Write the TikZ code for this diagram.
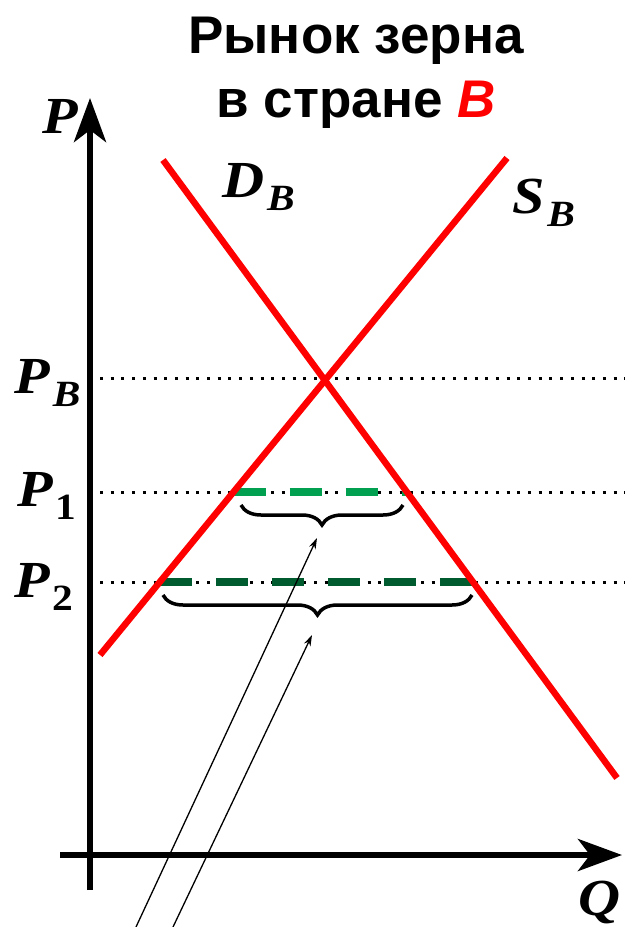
\documentclass[tikz,border=0pt]{standalone}
\usepackage{fontspec}
\setmainfont{Liberation Serif}
\newfontfamily\titlefont{Liberation Sans}
\newfontfamily\lblfont[FakeStretch=1.12]{Liberation Serif}
\usepackage{xcolor}
\usetikzlibrary{arrows.meta,positioning,decorations.pathreplacing,calc}
\definecolor{curvered}{RGB}{255,0,0}
\definecolor{lightgreen}{RGB}{0,160,80}
\definecolor{darkgreen}{RGB}{0,92,46}
\newcommand{\mlabel}[2]{\textbf{\textit{#1}}\kern3pt\raisebox{-13pt}{\fontsize{37}{37}\selectfont\bfseries #2}}

\begin{document}
\begin{tikzpicture}[
    x=1pt, y=-1pt,
    every node/.style={inner sep=0pt, outer sep=0pt},
    title/.style={anchor=base, font=\titlefont\bfseries\fontsize{53}{53}\selectfont},
    lbl/.style={anchor=base west, font=\lblfont\fontsize{52}{52}\selectfont},
    axis/.style={line width=6pt, -{Stealth[length=44pt, width=32pt, inset=12pt]}},
    curve/.style={line width=6.5pt, draw=curvered},
    guide/.style={line width=3pt, dash pattern=on 3pt off 7.7pt},
    gapone/.style={line width=8pt, draw=lightgreen, dash pattern=on 32pt off 24pt},
    gaptwo/.style={line width=8pt, draw=darkgreen, dash pattern=on 32pt off 24pt},
    gapbrace/.style={line width=3.5pt, decorate, decoration={brace, amplitude=20pt, mirror}},
    pointer/.style={line width=1.3pt, -{Stealth[length=11pt, width=7pt]}}
]
\useasboundingbox (0,0) rectangle (625,927);

% Title
\node[title] (title1) at (356,53) {Рынок зерна};
\node[title] (title2) at (356,117) {в стране \textcolor{curvered}{\textit{B}}};

% Axes
\coordinate (origin_v) at (90,890);
\coordinate (top_v) at (90,98);
\coordinate (origin_h) at (60,855);
\coordinate (end_h) at (622,855);
\draw[axis] (origin_v) -- (top_v);
\draw[axis] (origin_h) -- (end_h);
\node[lbl] (p_axis) at (42,133) {\textbf{\textit{P}}};
\node[lbl] (q_axis) at (578,915) {\textbf{\textit{Q}}};

% Price levels
\coordinate (gb_l) at (100,378);
\coordinate (gb_r) at (625,378);
\coordinate (g1_l) at (100,492);
\coordinate (g1_r) at (625,492);
\coordinate (g2_l) at (100,582);
\coordinate (g2_r) at (625,582);
\draw[guide] (gb_l) -- (gb_r);
\draw[guide] (g1_l) -- (g1_r);
\draw[guide] (g2_l) -- (g2_r);
\node[lbl] (p_b) at (14,393) {\mlabel{P}{\textit{B}}};
\node[lbl] (p_1) at (17,506) {\mlabel{P}{1}};
\node[lbl] (p_2) at (14,597) {\mlabel{P}{2}};

% Demand and supply
\coordinate (d_top) at (163,160);
\coordinate (d_bot) at (617,778);
\coordinate (s_bot) at (100,655);
\coordinate (s_top) at (507,158);
\coordinate (s1) at (intersection of s_bot--s_top and g1_l--g1_r);
\coordinate (d1) at (intersection of d_top--d_bot and g1_l--g1_r);
\coordinate (s2) at (intersection of s_bot--s_top and g2_l--g2_r);
\coordinate (d2) at (intersection of d_top--d_bot and g2_l--g2_r);
\draw[gapone] (s1) -- (d1);
\draw[gaptwo] (s2) -- (d2);
\draw[curve] (d_top) -- (d_bot);
\draw[curve] (s_bot) -- (s_top);
\node[lbl] (d_lbl) at (222,197) {\mlabel{D}{\textit{B}}};
\node[lbl] (s_lbl) at (512,213) {\mlabel{S}{\textit{B}}};

% Shortages
\coordinate (br1_l) at (241,505);
\coordinate (br1_r) at (403,505);
\coordinate (br2_l) at (163,595);
\coordinate (br2_r) at (472,595);
\draw[gapbrace] (br1_l) -- (br1_r);
\draw[gapbrace] (br2_l) -- (br2_r);
\coordinate (tip1) at (317,538);
\coordinate (tip2) at (312,635);
\coordinate (src1) at (136,927);
\coordinate (src2) at (173,927);
\draw[pointer] (src1) -- (tip1);
\draw[pointer] (src2) -- (tip2);

\end{tikzpicture}
\end{document}
